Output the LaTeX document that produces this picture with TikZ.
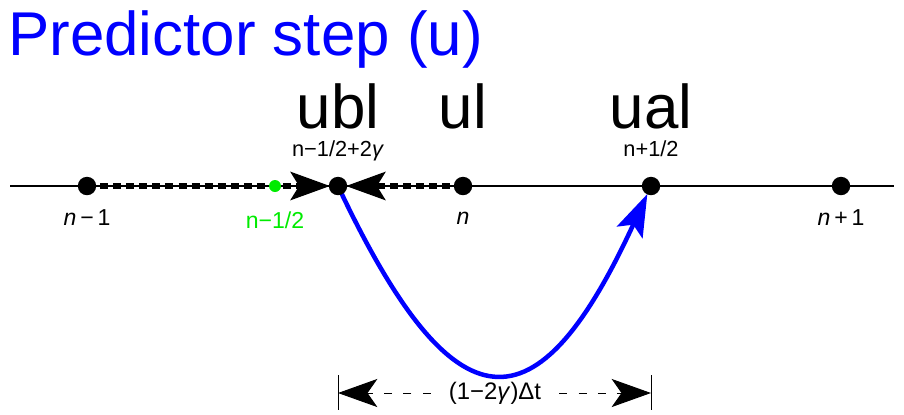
\documentclass[tikz,border=0pt]{standalone}
\usepackage{fontspec}
\setmainfont{Liberation Sans}
\usetikzlibrary{arrows.meta, positioning}
\definecolor{pblue}{RGB}{0,0,255}
\definecolor{pgreen}{RGB}{0,235,0}

\tikzset{
  title/.style={font=\fontsize{44}{50}\selectfont, text=pblue, inner sep=0pt},
  biglab/.style={font=\fontsize{44}{50}\selectfont, inner sep=0pt},
  sublab/.style={font=\fontsize{15.5}{18}\selectfont, inner sep=0pt},
  ptlab/.style={font=\fontsize{16.4}{20}\selectfont, inner sep=0pt},
  dot/.style={circle, fill=black, inner sep=0pt, minimum size=0.46cm},
  halfdot/.style={circle, fill=pgreen, inner sep=0pt, minimum size=0.3cm},
  axis/.style={line width=1pt},
  halfstep/.style={line width=3.6pt, dash pattern=on 5.7pt off 3.6pt,
    -{Stealth[length=28pt, width=20pt, inset=6pt]}, shorten >=0.2cm},
  jump/.style={line width=3.2pt, pblue, -{Stealth[length=30pt, width=20pt, inset=6pt]}, shorten >=0.22cm},
  dimbar/.style={line width=0.7pt},
  dimline/.style={line width=0.7pt, dash pattern=on 5.7pt off 8pt,
    -{Stealth[length=28pt, width=20pt, inset=7pt]}},
  dimlab/.style={font=\fontsize{17}{20}\selectfont, inner xsep=0.45cm, inner ysep=0pt}
}

\begin{document}
\begin{tikzpicture}
  \useasboundingbox (0,0) rectangle (22.6,-10.35);
  % Title
  \node[title, anchor=base west] (ttl) at (0.2,-1.375) {Predictor step (u)};
  % Grid points
  \coordinate (axL) at (0.25,-4.65);
  \coordinate (axR) at (22.35,-4.65);
  \coordinate (nm1) at (2.175,-4.65);
  \coordinate (nmh) at (6.875,-4.65);
  \coordinate (ubl) at (8.45,-4.65);
  \coordinate (n) at (11.575,-4.65);
  \coordinate (ual) at (16.275,-4.65);
  \coordinate (np1) at (21.025,-4.65);
  \draw[axis] (axL) -- (axR);
  % Half steps
  \draw[halfstep] (nm1) -- (ubl);
  \draw[halfstep] (n) -- (ubl);
  % Predictor jump
  \draw[jump] (ubl) .. controls (11.375,-10.85) and (13.425,-10.85) .. (ual);
  % Dots
  \foreach \p in {nm1, ubl, n, ual, np1}
    \node[dot] (\p-dot) at (\p) {};
  \node[halfdot] (nmh-dot) at (nmh) {};
  % Labels above
  \node[biglab, anchor=base] (ublLab) at (8.45,-3.2) {ubl};
  \node[biglab, anchor=base] (ulLab) at (11.575,-3.2) {ul};
  \node[biglab, anchor=base] (ualLab) at (16.275,-3.2) {ual};
  \node[sublab, anchor=base] (ublSub) at (8.45,-3.9) {n−1/2+2\textit{γ}};
  \node[sublab, anchor=base] (ualSub) at (16.275,-3.9) {n+1/2};
  % Labels below
  \node[ptlab] (nm1Lab) at (2.175,-5.45) {\textit{n}\,−\,1};
  \node[ptlab, text=pgreen] (nmhLab) at (6.875,-5.5) {n−1/2};
  \node[ptlab] (nLab) at (11.575,-5.45) {\textit{n}};
  \node[ptlab] (np1Lab) at (21.025,-5.45) {\textit{n}\,+\,1};
  % Time span
  \coordinate (dimL) at (8.45,-9.825);
  \coordinate (dimR) at (16.275,-9.825);
  \draw[dimbar] (8.45,-9.375) -- (8.45,-10.25);
  \draw[dimbar] (16.275,-9.375) -- (16.275,-10.25);
  \node[dimlab] (dt) at (12.375,-9.825) {(1−2\textit{γ})Δt};
  \draw[dimline] (dt) -- (dimL);
  \draw[dimline] (dt) -- (dimR);
\end{tikzpicture}
\end{document}
